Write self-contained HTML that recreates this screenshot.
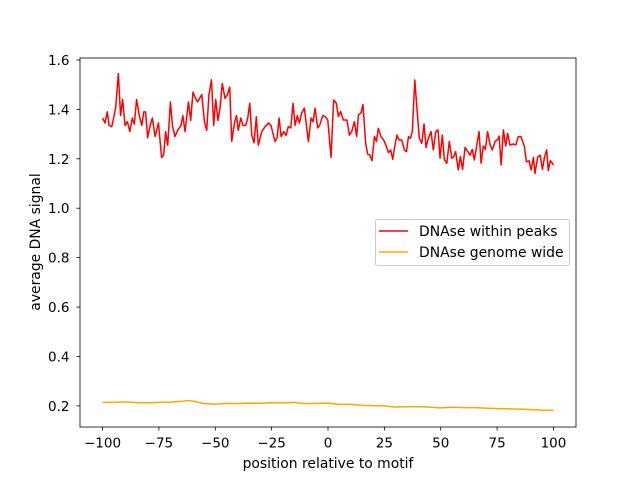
<!DOCTYPE html>
<html><head><meta charset="utf-8"><style>
html,body{margin:0;padding:0;background:#fff;}
svg{display:block;font-family:"DejaVu Sans","Liberation Sans",sans-serif;}
</style></head><body>
<svg id="chart" width="640" height="480" viewBox="0 0 640 480" xmlns="http://www.w3.org/2000/svg">
<rect x="0" y="0" width="640" height="480" fill="#fff"/>
<g id="plot"></g>
</svg>
<script>
const redX=[-100,-98.9,-97.9,-97.1,-95.9,-94.2,-93.0,-92.0,-91.1,-90.0,-89.0,-87.9,-86.8,-85.9,-84.9,-83.7,-82.6,-81.7,-80.9,-80.0,-78.9,-77.9,-76.7,-75.2,-73.8,-72.9,-72.0,-71.1,-69.9,-69.0,-67.9,-66.7,-65.2,-64.4,-63.4,-61.9,-60.9,-59.9,-59.0,-57.9,-56.0,-54.8,-53.8,-52.8,-51.7,-50.7,-49.8,-48.8,-47.9,-46.9,-45.7,-44.6,-43.6,-42.7,-41.5,-40.6,-39.8,-38.7,-37.7,-36.5,-35.6,-34.7,-33.8,-32.8,-31.8,-30.9,-29.4,-27.9,-26.4,-25.3,-23.5,-22.6,-21.7,-20.8,-19.6,-18.6,-17.6,-16.5,-15.5,-14.6,-13.6,-12.7,-11.7,-10.5,-8.7,-7.5,-6.6,-5.7,-4.6,-3.7,-2.3,
-1.3,-0.1,1.35,2.5,3.7,4.6,5.6,6.8,8.4,9.5,10.5,11.7,12.7,13.5,14.7,15.5,16.7,17.6,18.6,19.5,20.6,21.5,22.3,23.5,24.7,25.9,26.8,27.8,28.7,29.7,30.6,31.5,32.7,33.9,34.8,35.7,36.5,37.4,38.5,39.5,40.5,41.6,42.6,43.5,44.5,45.7,46.7,47.8,48.8,49.7,50.7,51.6,52.7,53.8,54.9,55.8,56.6,57.8,58.7,59.7,60.8,62.0,63.0,64.0,64.9,66.0,67.0,67.9,68.9,69.8,70.8,71.9,72.9,74.1,75.3,75.9,76.8,77.8,78.8,79.7,80.7,82.2,83.3,84.4,85.6,87.1,88.0,89.2,90.1,91.1,91.8,93.0,94.1,95.1,96.0,97.0,97.7,98.6,99.5,100];
const redY=[1.365,1.345,1.39,1.335,1.33,1.405,1.545,1.375,1.44,1.335,1.35,1.31,1.365,1.34,1.44,1.375,1.335,1.39,1.39,1.285,1.335,1.365,1.29,1.345,1.205,1.215,1.31,1.255,1.43,1.335,1.29,1.315,1.335,1.375,1.31,1.43,1.355,1.47,1.45,1.43,1.46,1.35,1.315,1.46,1.52,1.335,1.44,1.355,1.405,1.505,1.445,1.46,1.49,1.27,1.345,1.375,1.315,1.365,1.335,1.335,1.365,1.425,1.295,1.265,1.37,1.255,1.31,1.33,1.345,1.335,1.27,1.285,1.365,1.29,1.31,1.295,1.33,1.325,1.425,1.335,1.375,1.345,1.385,1.405,1.27,1.365,1.35,1.405,1.325,1.335,1.375,
1.371,1.357,1.206,1.438,1.425,1.371,1.391,1.357,1.357,1.296,1.31,1.35,1.29,1.377,1.387,1.42,1.263,1.219,1.215,1.192,1.29,1.27,1.323,1.29,1.276,1.25,1.225,1.236,1.198,1.256,1.296,1.276,1.276,1.236,1.229,1.29,1.283,1.31,1.519,1.398,1.283,1.263,1.341,1.246,1.283,1.31,1.236,1.31,1.317,1.202,1.296,1.198,1.182,1.27,1.202,1.209,1.229,1.155,1.209,1.157,1.246,1.229,1.215,1.238,1.195,1.256,1.31,1.182,1.252,1.238,1.31,1.256,1.236,1.27,1.279,1.292,1.175,1.317,1.252,1.303,1.256,1.26,1.256,1.29,1.29,1.25,1.188,1.192,1.155,1.206,1.141,1.206,1.215,1.157,1.206,1.236,1.152,1.192,1.182,1.175];
const orangeX=[-100,-95,-90,-85,-80,-75,-70,-65,-62,-58,-55,-50,-45,-40,-35,-30,-25,-20,-15,-10,-5,0,5,10,15,20,25,30,35,40,45,50,55,60,65,70,75,80,85,90,95,100];
const orangeY=[0.214,0.214,0.216,0.213,0.212,0.214,0.215,0.218,0.222,0.216,0.209,0.207,0.210,0.209,0.211,0.210,0.213,0.212,0.214,0.209,0.210,0.211,0.206,0.206,0.202,0.201,0.200,0.195,0.197,0.197,0.195,0.192,0.195,0.193,0.193,0.191,0.189,0.188,0.187,0.185,0.183,0.182];
const xTicks=[-100,-75,-50,-25,0,25,50,75,100];
const yTicks=[0.2,0.4,0.6,0.8,1.0,1.2,1.4,1.6];
const yTickLabels=["0.2","0.4","0.6","0.8","1.0","1.2","1.4","1.6"];

const L=80,R=576,T=58,B=427;
const xMin=-110,xMax=110,yMin=0.1145,yMax=1.608;
const sx=v=>L+(v-xMin)/(xMax-xMin)*(R-L);
const sy=v=>B-(v-yMin)/(yMax-yMin)*(B-T);
const NS="http://www.w3.org/2000/svg";
const g=document.getElementById('plot');
function mk(tag,attrs,parent){const e=document.createElementNS(NS,tag);for(const k in attrs)e.setAttribute(k,attrs[k]);(parent||g).appendChild(e);return e;}

function series(xs,ys,color,name){
  const d=xs.map((x,i)=>(i?'L':'M')+sx(x).toFixed(2)+','+sy(ys[i]).toFixed(2)).join('');
  const p=mk('path',{d:d,fill:'none',stroke:color,'stroke-width':1.5,'stroke-linejoin':'round'});
  
  
}
series(redX,redY,'#ff0000','dnase-within-peaks-line');
series(orangeX,orangeY,'#ffa500','dnase-genome-wide-line');

const frame=mk('rect',{x:L,y:T,width:R-L,height:B-T,fill:'none',stroke:'#000','stroke-width':0.8});



xTicks.forEach(t=>{
  const x=sx(t);
  mk('line',{x1:x,x2:x,y1:B,y2:B+3.5,stroke:'#000','stroke-width':0.8});
  const tx=mk('text',{x:x,y:447.5,'text-anchor':'middle','font-size':'13.5px',fill:'#000'});
  tx.textContent=(t<0?'\u2212'+(-t):String(t));
  
  
});
yTicks.forEach((t,i)=>{
  const y=sy(t);
  mk('line',{x1:L-3.5,x2:L,y1:y,y2:y,stroke:'#000','stroke-width':0.8});
  const tx=mk('text',{x:L-10.5,y:y+5,'text-anchor':'end','font-size':'13.5px',fill:'#000'});
  tx.textContent=yTickLabels[i];
  
  
});

const xt=mk('text',{x:(L+R)/2,y:468,'text-anchor':'middle','font-size':'13.9px',fill:'#000'});
xt.textContent='position relative to motif';


const yt=mk('text',{x:0,y:0,'text-anchor':'middle','font-size':'13.9px',fill:'#000',transform:'translate(40,242) rotate(-90)'});
yt.textContent='average DNA signal';



const lg=mk('g',{});


mk('rect',{x:375.5,y:219.5,width:194,height:46,rx:2,fill:'#fff','fill-opacity':0.8,stroke:'#ccc','stroke-width':1},lg);
const entries=[['DNAse within peaks','#ff0000',231],['DNAse genome wide','#ffa500',252]];
entries.forEach(en=>{
  const eg=mk('g',{},lg);
  
  
  mk('line',{x1:379,x2:408,y1:en[2],y2:en[2],stroke:en[1],'stroke-width':1.5},eg);
  const t=mk('text',{x:419,y:en[2]+5,'font-size':'13.9px',fill:'#000'},eg);
  t.textContent=en[0];
});
</script>
</body></html>
